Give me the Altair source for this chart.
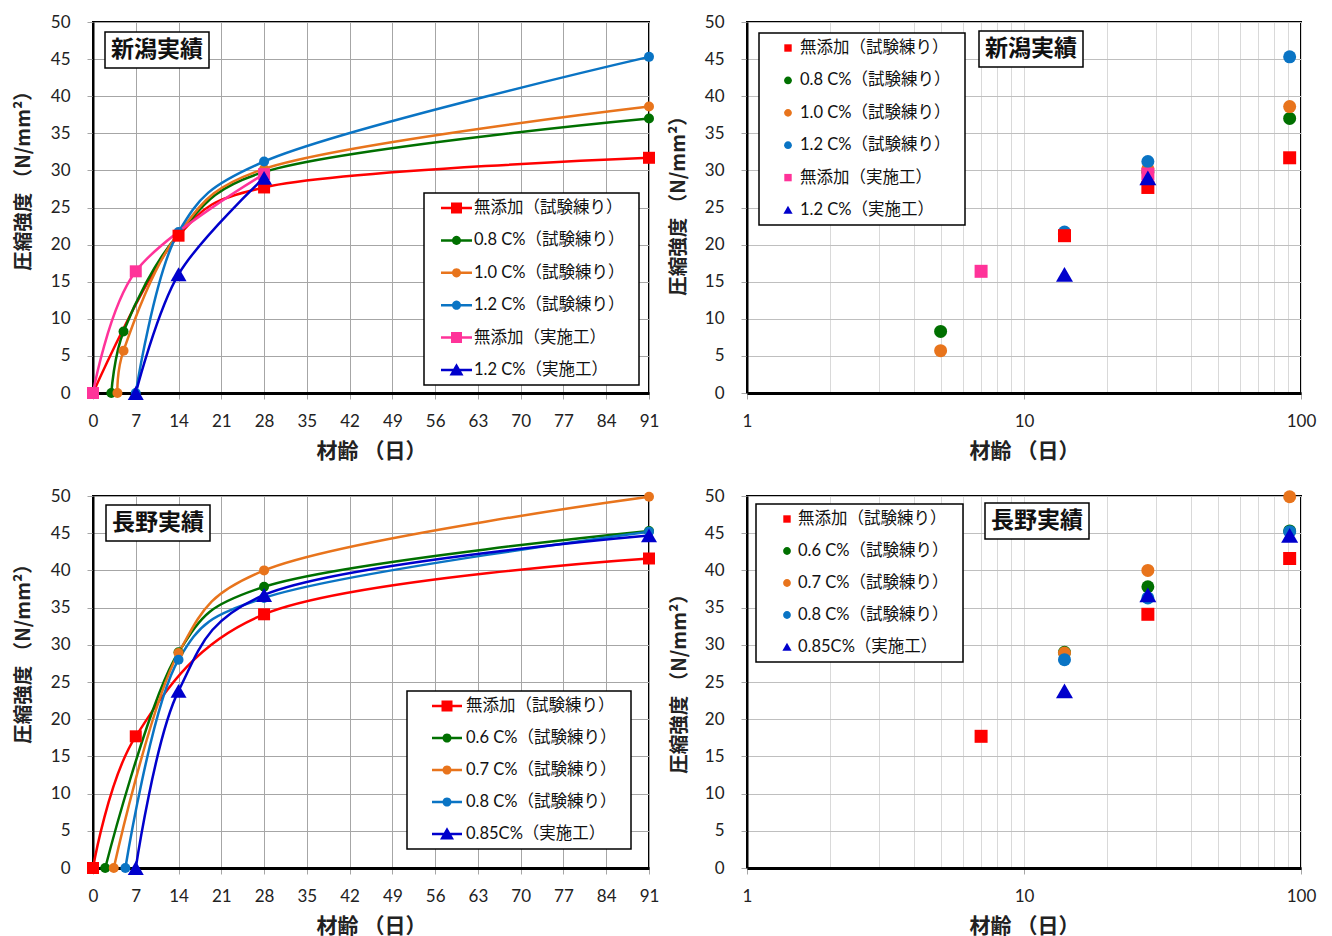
import altair as alt
import pandas as pd

# ---------------- data ----------------
NIIGATA_SERIES = ["無添加（試験練り）", "0.8 C%（試験練り）", "1.0 C%（試験練り）",
                  "1.2 C%（試験練り）", "無添加（実施工）", "1.2 C%（実施工）"]
NIIGATA_DAYS = [[0, 14, 28, 91], [3, 5, 14, 28, 91], [4, 5, 14, 28, 91],
                [7, 14, 28, 91], [0, 7, 28], [7, 14, 28]]
NIIGATA_VALUES = [[0, 21.2, 27.7, 31.7], [0, 8.3, 21.4, 29.8, 37.0], [0, 5.7, 21.5, 30.2, 38.6],
                  [0, 21.7, 31.2, 45.3], [0, 16.4, 29.5], [0, 16.0, 29.0]]

NAGANO_SERIES = ["無添加（試験練り）", "0.6 C%（試験練り）", "0.7 C%（試験練り）",
                 "0.8 C%（試験練り）", "0.85C%（実施工）"]
NAGANO_DAYS = [[0, 7, 28, 91], [2, 14, 28, 91], [3.4, 14, 28, 91],
               [5.3, 14, 28, 91], [7, 14, 28, 91]]
NAGANO_VALUES = [[0, 17.7, 34.1, 41.6], [0, 29.0, 37.8, 45.3], [0, 28.9, 40.0, 49.9],
                 [0, 28.0, 36.3, 45.2], [0, 23.8, 36.7, 44.7]]

LINEAR_TICKS = [0, 7, 14, 21, 28, 35, 42, 49, 56, 63, 70, 77, 84, 91]
LOG_TICKS = [1, 2, 3, 4, 5, 6, 7, 8, 9, 10, 20, 30, 40, 50, 60, 70, 80, 90, 100]
Y_TICKS = [0, 5, 10, 15, 20, 25, 30, 35, 40, 45, 50]
X_TITLE = "材齢 （日）"
Y_TITLE = "圧縮強度 （N/mm²）"
NIIGATA_TITLE = "新潟実績"
NAGANO_TITLE = "長野実績"

# ---------------- styles ----------------
NIIGATA_COLORS = ["#FF0000", "#007000", "#E8741C", "#0A74C4", "#FF3399", "#0000CC"]
NIIGATA_KINDS = ["square", "circle", "circle", "circle", "square", "triangle"]
NAGANO_COLORS = ["#FF0000", "#007000", "#E8741C", "#0A74C4", "#0000CC"]
NAGANO_KINDS = ["square", "circle", "circle", "circle", "triangle"]

JP = "Noto Sans CJK JP"
MIX = "Lato, Noto Sans CJK JP"
R = 13  # legend symbol half-size (px) -> symbolSize = (2R)^2
BLANK = "\u2800"  # blank glyph (not trimmed) used to widen legend boxes


def sym_path(kind, cx, h, line=None):
    u = lambda v: f"{v / R:.4f}"
    parts = ["M-1,-1", "M1,1"]
    if line is not None:
        x1, x2 = line
        t = 1.25
        parts.append(f"M{u(x1)},{u(-t)}H{u(x2)}V{u(t)}H{u(x1)}Z")
    if kind == "square":
        parts.append(f"M{u(cx - h)},{u(-h)}H{u(cx + h)}V{u(h)}H{u(cx - h)}Z")
    elif kind == "circle":
        parts.append(f"M{u(cx - h)},0A{u(h)},{u(h)},0,1,1,{u(cx + h)},0"
                     f"A{u(h)},{u(h)},0,1,1,{u(cx - h)},0Z")
    else:
        parts.append(f"M{u(cx)},{u(-h * 0.95)}L{u(cx + h)},{u(h * 0.8)}L{u(cx - h)},{u(h * 0.8)}Z")
    return "".join(parts)


def frame(series, days, values, tag):
    rows = []
    for s, ds, vs in zip(series, days, values):
        for d, v in zip(ds, vs):
            rows.append({"series": s, "day": d, "strength": v, "panel": tag})
    return pd.DataFrame(rows)


def panel(df, series, colors, kinds, log, leg, title_leg, ytitle_x, ytitle_y, height):
    if log:
        df = df[(df["day"] > 0) & (df["strength"] > 0)]
        xscale = alt.Scale(type="log", domain=[1, 100], nice=False)
        major = "(datum.value == 1 || datum.value == 10 || datum.value == 100)"
        xaxis = alt.Axis(values=LOG_TICKS, labelExpr=f"{major} ? format(datum.value, 'd') : ''",
                         tickOpacity={"condition": {"test": major, "value": 1}, "value": 0},
                         gridColor="#D9D9D9", domainWidth=3, labelPadding=14,
                         titleY=58, titleBaseline="middle", labelFlush=False, labelOverlap=False)
        ygrid = "#BFBFBF"
        msizes = {"square": 169, "circle": 169, "triangle": 289}
    else:
        xscale = alt.Scale(domain=[0, 91], nice=False, zero=False)
        xaxis = alt.Axis(values=LINEAR_TICKS, gridColor="#A6A6A6", domainWidth=3, labelPadding=14,
                         titleY=58, titleBaseline="middle", labelFlush=False, labelOverlap=False)
        ygrid = "#A6A6A6"
        msizes = {"square": 144, "circle": 100, "triangle": 256}
    yaxis = alt.Axis(values=Y_TICKS, gridColor=ygrid, domainWidth=2, labelPadding=17,
                     titleX=ytitle_x, titleY=ytitle_y, titleAlign="center", titleBaseline="middle",
                     titleAngle=-90, titleFontSize=19.5)

    base = alt.Chart(df).encode(
        x=alt.X("day:Q", scale=xscale, axis=xaxis, title=X_TITLE),
        y=alt.Y("strength:Q", scale=alt.Scale(domain=[0, 50], nice=False), axis=yaxis, title=Y_TITLE),
    )
    cscale = alt.Scale(domain=series, range=colors)
    layers = []
    if not log:
        layers.append(base.mark_line(interpolate="catmull-rom", tension=0.25, strokeWidth=2.5).encode(
            color=alt.Color("series:N", scale=cscale, legend=None)))
    for kind, vshape in [("circle", "circle"), ("square", "square"), ("triangle", "triangle-up")]:
        names = [s for s, k in zip(series, kinds) if k == kind]
        if not names:
            continue
        layers.append(base.transform_filter(alt.FieldOneOfPredicate(field="series", oneOf=names))
                      .mark_point(filled=True, opacity=1, shape=vshape, size=msizes[kind], strokeWidth=0)
                      .encode(color=alt.Color("series:N", scale=cscale, legend=None)))

    # legend carrier (invisible marks)
    paths = [sym_path(k, leg["cx"], leg["h"][k], leg.get("line")) for k in kinds]
    lg = dict(title=None, orient="none", legendX=leg["x"], legendY=leg["y"], symbolSize=(2 * R) ** 2,
              rowPadding=leg["row"], padding=2, labelOffset=leg["lo"], labelFontSize=16.5, labelFont=MIX,
              labelLimit=400, strokeColor="black", fillColor="white", symbolStrokeWidth=0,
              symbolOpacity=1, labelColor="#111", labelExpr="datum.label + '" + BLANK + "'")
    layers.append(base.mark_point(filled=True, opacity=0).encode(
        color=alt.Color("series:N", scale=cscale, legend=alt.Legend(**lg)),
        shape=alt.Shape("series:N", scale=alt.Scale(domain=series, range=paths), legend=alt.Legend(**lg))))

    # title box (legend with a single label)
    layers.append(base.mark_point(opacity=0).encode(
        shape=alt.Shape("panel:N", scale=alt.Scale(range=["circle"]), legend=alt.Legend(
            title=None, orient="none", legendX=title_leg[0], legendY=title_leg[1], symbolSize=1,
            symbolStrokeWidth=0.01, symbolOpacity=0, labelOffset={"expr": "-23"}, padding=6,
            labelFontSize=23, labelFontWeight="bold", labelFont=JP, labelColor="#111",
            strokeColor="black", fillColor="white", labelLimit=400))))

    return alt.layer(*layers).resolve_scale(shape="independent", color="independent").properties(
        width=leg["w"], height=height)


ng = frame(NIIGATA_SERIES, NIIGATA_DAYS, NIIGATA_VALUES, NIIGATA_TITLE)
nn = frame(NAGANO_SERIES, NAGANO_DAYS, NAGANO_VALUES, NAGANO_TITLE)

big_h = {"square": 5.5, "circle": 4.5, "triangle": 7}
small_h = {"square": 3.7, "circle": 3.9, "triangle": 4.6}

tl = panel(ng, NIIGATA_SERIES, NIIGATA_COLORS, NIIGATA_KINDS, False,
           dict(x=331, y=171, row=6.4, cx=17.5, h=big_h, line=(2, 33), lo=22, w=556),
           (12, 10), -70, 153.5, 371)
tr = panel(ng, NIIGATA_SERIES, NIIGATA_COLORS, NIIGATA_KINDS, True,
           dict(x=12, y=11, row=6.4, cx=14, h=small_h, lo=13, w=554),
           (232, 9), -69, 178.5, 371)
bl = panel(nn, NAGANO_SERIES, NAGANO_COLORS, NAGANO_KINDS, False,
           dict(x=314, y=195, row=6.0, cx=25, h=big_h, line=(10, 40), lo=31, w=556),
           (13, 9), -70, 152.5, 372)
br = panel(nn, NAGANO_SERIES, NAGANO_COLORS, NAGANO_KINDS, True,
           dict(x=9, y=8, row=6.0, cx=16, h=small_h, lo=14, w=554),
           (238, 7), -68, 182.5, 372)

chart = alt.concat(tl, tr, bl, br, columns=2, spacing={"row": 103, "column": 98}, bounds="flush").properties(
    padding={"left": 4, "top": 4, "right": 5, "bottom": 0}, background="white"
).configure_view(stroke="black", strokeWidth=2).configure_axis(
    labelFont="Lato", labelFontSize=17, labelColor="#222", titleFont=JP, titleFontSize=21,
    titleFontWeight="bold", titleColor="#222", tickColor="#A6A6A6", tickSize=6, gridWidth=1,
    domainColor="black"
).configure_legend(strokeWidth=1.5)

chart.save("out.html", embed_options={"renderer": "svg", "actions": False})
